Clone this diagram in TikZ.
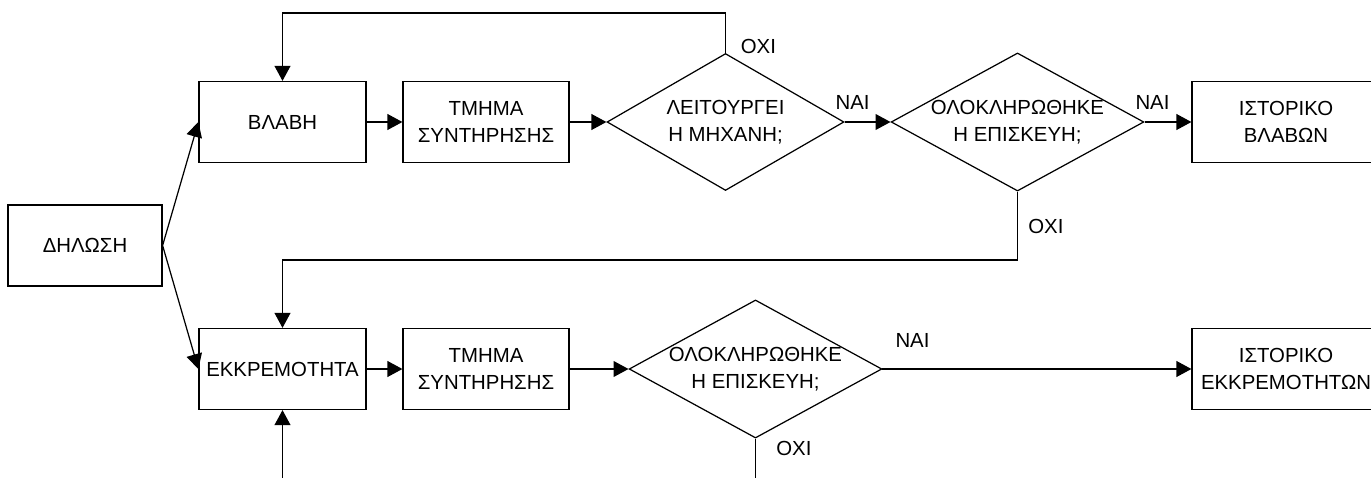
\documentclass[tikz,border=0pt]{standalone}
\usepackage{fontspec}
\setmainfont{Liberation Sans}
\usetikzlibrary{shapes.geometric,arrows.meta}

\tikzset{
  box/.style={draw, line width=0.7pt, minimum width=3.34cm, minimum height=1.62cm, inner sep=2pt, align=center},
  decision/.style={draw, diamond, line width=0.7pt, inner sep=0pt, align=center},
  arr/.style={line width=0.7pt, -{Triangle[length=8.5pt,width=9pt]}},
  lbl/.style={inner sep=0pt}
}

\begin{document}
\begin{tikzpicture}[x=0.02cm, y=0.02cm, font=\fontsize{11.6}{15.2}\selectfont]
  \useasboundingbox (0,0) rectangle (1371,477);
  \clip (0,0) rectangle (1371,477);

  % Boxes
  \node[box, minimum width=3.08cm] (dilosi) at (85,231.5) {ΔΗΛΩΣΗ};
  \node[box] (vlavi) at (282.5,355) {ΒΛΑΒΗ};
  \node[box, minimum width=3.32cm] (tmima1) at (486,355) {ΤΜΗΜΑ\\ΣΥΝΤΗΡΗΣΗΣ};
  \node[box, minimum width=3.76cm] (istvlav) at (1286,355) {ΙΣΤΟΡΙΚΟ\\ΒΛΑΒΩΝ};
  \node[box] (ekkr) at (282.5,108) {ΕΚΚΡΕΜΟΤΗΤΑ};
  \node[box, minimum width=3.32cm] (tmima2) at (486,108) {ΤΜΗΜΑ\\ΣΥΝΤΗΡΗΣΗΣ};
  \node[box, minimum width=3.76cm] (istekkr) at (1286,108) {ΙΣΤΟΡΙΚΟ\\ΕΚΚΡΕΜΟΤΗΤΩΝ};

  % Decisions
  \node[decision, aspect=1.73, minimum width=4.74cm, minimum height=2.74cm] (leit) at (725.5,355) {ΛΕΙΤΟΥΡΓΕΙ\\Η ΜΗΧΑΝΗ;};
  \node[decision, aspect=1.83, minimum width=5.02cm, minimum height=2.74cm] (olok1) at (1017.5,355) {ΟΛΟΚΛΗΡΩΘΗΚΕ\\Η ΕΠΙΣΚΕΥΗ;};
  \node[decision, aspect=1.83, minimum width=5.02cm, minimum height=2.74cm] (olok2) at (755.5,108) {ΟΛΟΚΛΗΡΩΘΗΚΕ\\Η ΕΠΙΣΚΕΥΗ;};

  % Forward flow
  \draw[arr] (dilosi.east) -- (vlavi.west);
  \draw[arr] (dilosi.east) -- (ekkr.west);
  \draw[arr] (vlavi) -- (tmima1);
  \draw[arr] (tmima1) -- (leit);
  \draw[arr] (leit) -- (olok1);
  \draw[arr] (olok1) -- (istvlav);
  \draw[arr] (ekkr) -- (tmima2);
  \draw[arr] (tmima2) -- (olok2);
  \draw[arr] (olok2) -- (istekkr);

  % Return paths
  \coordinate (top) at (0,464);
  \coordinate (ret) at (0,217);
  \coordinate (bot) at (0,-10);
  \draw[arr] (leit.north) -- (leit.north |- top) -| (vlavi.north);
  \draw[arr] (olok1.south) -- (olok1.south |- ret) -| (ekkr.north);
  \draw[line width=0.7pt] (olok2.south) -- (olok2.south |- bot);
  \draw[arr] (ekkr.south |- bot) -- (ekkr.south);

  % Answers
  \node[lbl, anchor=south west] (oxi1) at ([shift={(15,-1)}]leit.north) {ΟΧΙ};
  \node[lbl, anchor=south] (nai1) at ([shift={(8,12.5)}]leit.east) {ΝΑΙ};
  \node[lbl, anchor=south] (nai2) at ([shift={(8,12.5)}]olok1.east) {ΝΑΙ};
  \node[lbl, anchor=south west] (oxi2) at ([shift={(10.5,-42)}]olok1.south) {ΟΧΙ};
  \node[lbl, anchor=south] (nai3) at ([shift={(30,21.5)}]olok2.east) {ΝΑΙ};
  \node[lbl, anchor=south west] (oxi3) at ([shift={(20.5,-17)}]olok2.south) {ΟΧΙ};
\end{tikzpicture}
\end{document}
